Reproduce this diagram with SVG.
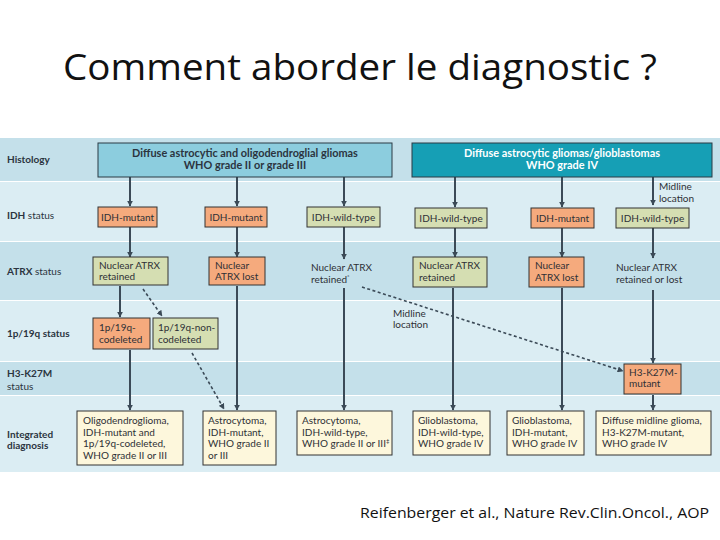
<svg xmlns="http://www.w3.org/2000/svg" width="720" height="540" viewBox="0 0 720 540">
<defs>
<style>
.bandA{fill:#c4e0ea}
.bandB{fill:#dbedf3}
.lbl{font-family:Lato,"Open Sans","DejaVu Sans",sans-serif;font-size:10px;fill:#2b3440}
.b{font-weight:bold}
.t{font-family:Lato,"Open Sans","DejaVu Sans",sans-serif;font-size:10px;fill:#2e3036}
.hl{font-family:Lato,"Open Sans","DejaVu Sans",sans-serif;font-size:10.9px;font-weight:bold;text-anchor:middle}
.or{fill:#f5aa7d;stroke:#333;stroke-width:1}
.gr{fill:#d5deb2;stroke:#333;stroke-width:1}
.dx{fill:#fdf7dc;stroke:#333;stroke-width:1}
.c{text-anchor:middle}
.arr{stroke:#3b4a57;stroke-width:2;fill:none;marker-end:url(#ah)}
.dash{stroke:#3b4a57;stroke-width:1.6;fill:none;stroke-dasharray:3 2.5;marker-end:url(#ah)}
</style>
<marker id="ah" viewBox="0 0 10 10" refX="9" refY="5" markerWidth="6" markerHeight="6" markerUnits="userSpaceOnUse" orient="auto">
<path d="M0,0 L10,5 L0,10 z" fill="#3b4a57"/>
</marker>
</defs>
<rect width="720" height="540" fill="#ffffff"/>
<text x="360" y="80" font-family="'Open Sans','DejaVu Sans',sans-serif" font-size="37" text-anchor="middle" fill="#111" textLength="594" lengthAdjust="spacingAndGlyphs">Comment aborder le diagnostic ?</text>
<text x="360" y="518" font-family="'Open Sans','DejaVu Sans',sans-serif" font-size="15" fill="#111" textLength="349" lengthAdjust="spacingAndGlyphs">Reifenberger et al., Nature Rev.Clin.Oncol., AOP</text>
<g id="bands">
<rect class="bandA" x="0" y="138" width="720" height="43"/>
<rect class="bandB" x="0" y="182" width="720" height="59"/>
<rect class="bandA" x="0" y="242" width="720" height="58"/>
<rect class="bandB" x="0" y="301" width="720" height="60"/>
<rect class="bandA" x="0" y="362" width="720" height="33"/>
<rect class="bandB" x="0" y="396" width="720" height="76"/>
</g>
<g id="row-labels">
<text class="lbl b" x="7" y="163">Histology</text>
<text class="lbl" x="7" y="219"><tspan class="b">IDH</tspan> status</text>
<text class="lbl" x="7" y="275"><tspan class="b">ATRX</tspan> status</text>
<text class="lbl b" x="7" y="337">1p/19q status</text>
<text class="lbl b" x="7" y="377">H3-K27M</text>
<text class="lbl" x="7" y="390" font-size="9.5">status</text>
<text class="lbl b" x="7" y="438">Integrated</text>
<text class="lbl b" x="7" y="449">diagnosis</text>
</g>
<g id="connectors">
<line class="arr" x1="130" y1="177" x2="130" y2="206"/>
<line class="arr" x1="237" y1="177" x2="237" y2="206"/>
<line class="arr" x1="344" y1="177" x2="344" y2="206"/>
<line class="arr" x1="455" y1="177" x2="455" y2="207"/>
<line class="arr" x1="562" y1="177" x2="562" y2="207"/>
<line class="arr" x1="653" y1="177" x2="653" y2="205"/>
<line class="arr" x1="130" y1="227" x2="130" y2="257"/>
<line class="arr" x1="237" y1="227" x2="237" y2="257"/>
<line class="arr" x1="344" y1="227" x2="344" y2="259"/>
<line class="arr" x1="455" y1="228" x2="455" y2="257"/>
<line class="arr" x1="562" y1="228" x2="562" y2="257"/>
<line class="arr" x1="653" y1="228" x2="653" y2="258"/>
<line class="arr" x1="120" y1="286" x2="120" y2="317"/>
<line class="arr" x1="130" y1="350" x2="130" y2="410"/>
<line class="arr" x1="237" y1="286" x2="237" y2="410"/>
<line class="arr" x1="344" y1="288" x2="344" y2="410"/>
<line class="arr" x1="453" y1="288" x2="453" y2="410"/>
<line class="arr" x1="562" y1="288" x2="562" y2="410"/>
<line class="arr" x1="653" y1="290" x2="653" y2="363"/>
<line class="arr" x1="653" y1="395" x2="653" y2="410"/>
<line class="dash" x1="143" y1="289" x2="162" y2="316"/>
<line class="dash" x1="192" y1="353" x2="224" y2="409"/>
<line class="dash" x1="362" y1="287" x2="623" y2="371"/>
</g>
<g id="histology-1">
<rect x="98" y="143" width="294" height="34" fill="#8ccdde" stroke="#2b3a44" stroke-width="1"/>
<text class="hl" x="245" y="157" fill="#2b3440">Diffuse astrocytic and oligodendroglial gliomas</text>
<text class="hl" x="245" y="169" fill="#2b3440">WHO grade II or grade III</text>
</g>
<g id="histology-2">
<rect x="412" y="143" width="300" height="34" fill="#169fb5" stroke="#2b3a44" stroke-width="1"/>
<text class="hl" x="562" y="157" fill="#ffffff">Diffuse astrocytic gliomas/glioblastomas</text>
<text class="hl" x="562" y="169" fill="#ffffff">WHO grade IV</text>
</g>
<g id="midline-label-1">
<text class="t" x="659" y="190">Midline</text>
<text class="t" x="659" y="202">location</text>
</g>
<g id="idh-1"><rect class="or" x="98" y="207" width="59" height="20"/><text class="t c" x="127.5" y="221">IDH-mutant</text></g>
<g id="idh-2"><rect class="or" x="205" y="207" width="62" height="20"/><text class="t c" x="236" y="221">IDH-mutant</text></g>
<g id="idh-3"><rect class="gr" x="307" y="207" width="73" height="20"/><text class="t c" x="343.5" y="221">IDH-wild-type</text></g>
<g id="idh-4"><rect class="gr" x="415" y="208" width="72" height="20"/><text class="t c" x="451" y="222">IDH-wild-type</text></g>
<g id="idh-5"><rect class="or" x="531" y="208" width="63" height="20"/><text class="t c" x="562.5" y="222">IDH-mutant</text></g>
<g id="idh-6"><rect class="gr" x="616" y="208" width="73" height="20"/><text class="t c" x="652.5" y="222">IDH-wild-type</text></g>
<g id="atrx-1"><rect class="gr" x="93" y="257" width="75" height="28"/><text class="t" x="99" y="269">Nuclear ATRX</text><text class="t" x="99" y="280">retained</text></g>
<g id="atrx-2"><rect class="or" x="209" y="257" width="56" height="28"/><text class="t" x="215" y="269">Nuclear</text><text class="t" x="215" y="280">ATRX lost</text></g>
<g id="atrx-3"><text class="t" x="311" y="271" font-size="10.5">Nuclear ATRX</text><text class="t" x="311" y="283" font-size="10.5">retained<tspan font-size="6" dy="-4">*</tspan></text></g>
<g id="atrx-4"><rect class="gr" x="413" y="257" width="74" height="30"/><text class="t" x="419" y="269">Nuclear ATRX</text><text class="t" x="419" y="281">retained</text></g>
<g id="atrx-5"><rect class="or" x="529" y="257" width="55" height="30"/><text class="t" x="535" y="269">Nuclear</text><text class="t" x="535" y="281">ATRX lost</text></g>
<g id="atrx-6"><text class="t" x="616" y="271" font-size="10.5">Nuclear ATRX</text><text class="t" x="616" y="283" font-size="10.5">retained or lost</text></g>
<g id="midline-label-2">
<text class="t" x="393" y="317">Midline</text>
<text class="t" x="393" y="328">location</text>
</g>
<g id="codel-1"><rect class="or" x="93" y="318" width="57" height="31"/><text class="t" x="99" y="331">1p/19q-</text><text class="t" x="99" y="343">codeleted</text></g>
<g id="codel-2"><rect class="gr" x="153" y="318" width="65" height="31"/><text class="t" x="158" y="331">1p/19q-non-</text><text class="t" x="158" y="343">codeleted</text></g>
<g id="h3-1"><rect class="or" x="624" y="364" width="57" height="30"/><text class="t" x="629" y="376">H3-K27M-</text><text class="t" x="629" y="387">mutant</text></g>
<g id="dx-1"><rect class="dx" x="77" y="411" width="106" height="54"/>
<text class="t" x="83" y="424">Oligodendroglioma,</text><text class="t" x="83" y="435.5">IDH-mutant and</text><text class="t" x="83" y="447">1p/19q-codeleted,</text><text class="t" x="83" y="458.5">WHO grade II or III</text></g>
<g id="dx-2"><rect class="dx" x="203" y="411" width="73" height="54"/>
<text class="t" x="208" y="424">Astrocytoma,</text><text class="t" x="208" y="435.5">IDH-mutant,</text><text class="t" x="208" y="447">WHO grade II</text><text class="t" x="208" y="458.5">or III</text></g>
<g id="dx-3"><rect class="dx" x="297" y="411" width="95" height="44"/>
<text class="t" x="302" y="424">Astrocytoma,</text><text class="t" x="302" y="435.5">IDH-wild-type,</text><text class="t" x="302" y="447">WHO grade II or III<tspan font-size="6" dy="-4">‡</tspan></text></g>
<g id="dx-4"><rect class="dx" x="413" y="411" width="77" height="44"/>
<text class="t" x="418" y="424">Glioblastoma,</text><text class="t" x="418" y="435.5">IDH-wild-type,</text><text class="t" x="418" y="447">WHO grade IV</text></g>
<g id="dx-5"><rect class="dx" x="507" y="411" width="77" height="44"/>
<text class="t" x="512" y="424">Glioblastoma,</text><text class="t" x="512" y="435.5">IDH-mutant,</text><text class="t" x="512" y="447">WHO grade IV</text></g>
<g id="dx-6"><rect class="dx" x="596" y="411" width="115" height="44"/>
<text class="t" x="602" y="424">Diffuse midline glioma,</text><text class="t" x="602" y="435.5">H3-K27M-mutant,</text><text class="t" x="602" y="447">WHO grade IV</text></g>
</svg>
